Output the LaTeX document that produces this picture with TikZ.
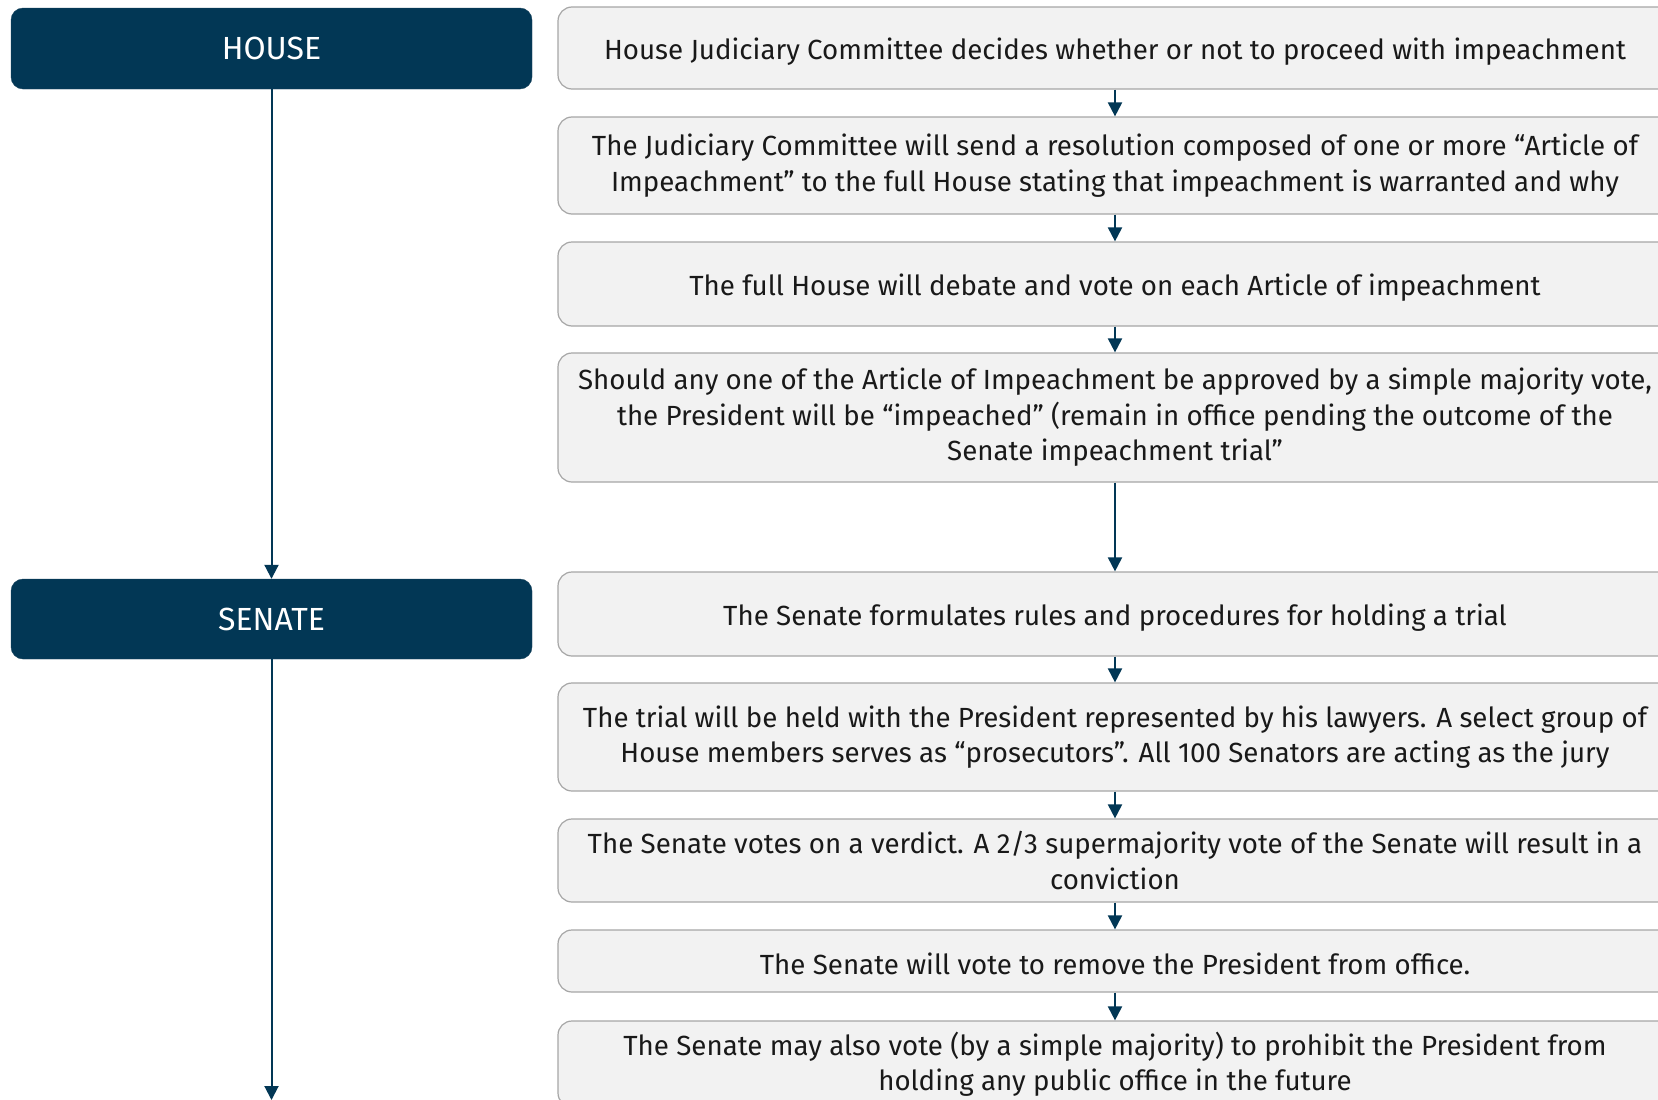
\documentclass[tikz,border=0pt]{standalone}
\usepackage{fontspec}
\setmainfont{Fira Sans}
\usetikzlibrary{arrows.meta}
\definecolor{navy}{HTML}{023755}
\definecolor{boxfill}{HTML}{F2F2F2}
\definecolor{boxline}{HTML}{A6A6A6}
\begin{document}
\begin{tikzpicture}[x=1pt,y=-1pt,
  headbox/.style={draw=navy!80!gray, fill=navy, rounded corners=12pt, text=white,
    minimum width=521pt, inner sep=0pt, font=\fontsize{32}{36}\selectfont},
  stepbox/.style={draw=boxline, line width=1.2pt, fill=boxfill, rounded corners=14pt,
    minimum width=1114pt, inner sep=0pt, align=center, text=black!90,
    font=\fontsize{27.7}{35.5}\selectfont,
    execute at begin node={\rule{0pt}{28pt}}},
  flow/.style={draw=navy, line width=2pt, -{Triangle[width=14pt,length=14pt]}}
]
\useasboundingbox (0,0) rectangle (1658,1100);
\clip (0,0) rectangle (1658,1100);
\fill[white] (0,0) rectangle (1658,1100);

\node[headbox, minimum height=81pt] (house) at (271.5,48.5) {HOUSE};
\node[headbox, minimum height=80pt] (senate) at (271.5,619) {SENATE};
\coordinate (end) at (271.5,1100);

\node[stepbox, minimum height=82pt] (b1) at (1115,48) {House Judiciary Committee decides whether or not to proceed with impeachment};
\node[stepbox, minimum height=97pt] (b2) at (1115,165.5) {The Judiciary Committee will send a resolution composed of one or more “Article of\\Impeachment” to the full House stating that impeachment is warranted and why};
\node[stepbox, minimum height=84pt] (b3) at (1115,284) {The full House will debate and vote on each Article of impeachment};
\node[stepbox, minimum height=129pt] (b4) at (1115,417.5) {Should any one of the Article of Impeachment be approved by a simple majority vote,\\the President will be “impeached” (remain in office pending the outcome of the\\Senate impeachment trial”};
\node[stepbox, minimum height=84pt] (b5) at (1115,614) {The Senate formulates rules and procedures for holding a trial};
\node[stepbox, minimum height=108pt] (b6) at (1115,737) {The trial will be held with the President represented by his lawyers. A select group of\\House members serves as “prosecutors”. All 100 Senators are acting as the jury};
\node[stepbox, minimum height=83pt] (b7) at (1115,860.5) {The Senate votes on a verdict. A 2/3 supermajority vote of the Senate will result in a\\conviction};
\node[stepbox, minimum height=62pt] (b8) at (1115,961) {The Senate will vote to remove the President from office.};
\node[stepbox, minimum height=86pt] (b9) at (1115,1064) {The Senate may also vote (by a simple majority) to prohibit the President from\\holding any public office in the future};

\draw[flow] (house) -- (senate);
\draw[flow] (senate) -- (end);
\draw[flow] (b1) -- (b2);
\draw[flow] (b2) -- (b3);
\draw[flow] (b3) -- (b4);
\draw[flow] (b4) -- (b5);
\draw[flow] (b5) -- (b6);
\draw[flow] (b6) -- (b7);
\draw[flow] (b7) -- (b8);
\draw[flow] (b8) -- (b9);
\end{tikzpicture}
\end{document}
